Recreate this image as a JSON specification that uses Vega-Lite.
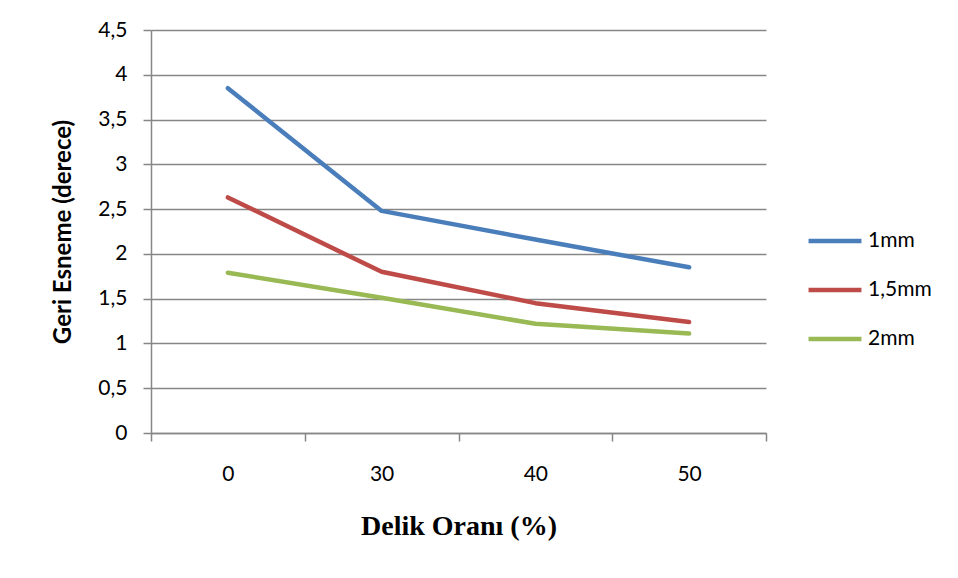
{
  "$schema": "https://vega.github.io/schema/vega-lite/v6.json",
  "width": 615,
  "height": 403,
  "autosize": {"type": "none"},
  "padding": {"left": 151, "top": 30, "right": 192, "bottom": 145},
  "background": "white",
  "config": {
    "view": {"stroke": null},
    "font": "Lato"
  },
  "data": {
    "values": [
      {"oran": "0", "seri": "1mm", "deger": 3.85},
      {"oran": "30", "seri": "1mm", "deger": 2.48},
      {"oran": "40", "seri": "1mm", "deger": 2.16},
      {"oran": "50", "seri": "1mm", "deger": 1.85},
      {"oran": "0", "seri": "1,5mm", "deger": 2.63},
      {"oran": "30", "seri": "1,5mm", "deger": 1.8},
      {"oran": "40", "seri": "1,5mm", "deger": 1.45},
      {"oran": "50", "seri": "1,5mm", "deger": 1.24},
      {"oran": "0", "seri": "2mm", "deger": 1.79},
      {"oran": "30", "seri": "2mm", "deger": 1.51},
      {"oran": "40", "seri": "2mm", "deger": 1.22},
      {"oran": "50", "seri": "2mm", "deger": 1.11}
    ]
  },
  "mark": {"type": "line", "strokeWidth": 4.5, "strokeCap": "round", "strokeJoin": "round"},
  "encoding": {
    "x": {
      "field": "oran",
      "type": "ordinal",
      "sort": ["0", "30", "40", "50"],
      "bandPosition": 0.5,
      "scale": {"type": "band", "paddingInner": 0, "paddingOuter": 0},
      "axis": {
        "title": "Delik Oranı (%)",
        "titleFont": "Liberation Serif",
        "titleFontSize": 28,
        "titleFontWeight": "bold",
        "titleColor": "black",
        "titlePadding": 28,
        "labelAngle": 0,
        "labelFont": "Lato",
        "labelFontSize": 21,
        "labelColor": "black",
        "labelPadding": 22,
        "tickBand": "extent",
        "tickSize": 8,
        "tickColor": "#868686",
        "tickWidth": 1.5,
        "domainColor": "#868686",
        "domainWidth": 1.5,
        "grid": false
      }
    },
    "y": {
      "field": "deger",
      "type": "quantitative",
      "scale": {"domain": [0, 4.5], "nice": false},
      "axis": {
        "values": [0, 0.5, 1, 1.5, 2, 2.5, 3, 3.5, 4, 4.5],
        "labelExpr": "replace(format(datum.value, '~g'), '.', ',')",
        "title": "Geri Esneme (derece)",
        "titleFont": "Lato",
        "titleFontSize": 24,
        "titleFontWeight": "bold",
        "titleColor": "black",
        "titlePadding": 22,
        "labelFont": "Lato",
        "labelFontSize": 21,
        "labelColor": "black",
        "labelPadding": 16,
        "tickSize": 8,
        "tickColor": "#868686",
        "tickWidth": 1.5,
        "domainColor": "#868686",
        "domainWidth": 1.5,
        "grid": true,
        "gridColor": "#868686",
        "gridWidth": 1.5
      }
    },
    "color": {
      "field": "seri",
      "type": "nominal",
      "sort": ["1mm", "1,5mm", "2mm"],
      "scale": {"domain": ["1mm", "1,5mm", "2mm"], "range": ["#4a7ebb", "#be4b48", "#98b954"]},
      "legend": {
        "title": null,
        "orient": "none",
        "legendX": 655,
        "legendY": 182,
        "symbolType": "stroke",
        "symbolSize": 2800,
        "symbolStrokeWidth": 4.5,
        "labelFont": "Lato",
        "labelFontSize": 21,
        "labelColor": "black",
        "labelOffset": 4,
        "rowPadding": 10
      }
    }
  }
}
